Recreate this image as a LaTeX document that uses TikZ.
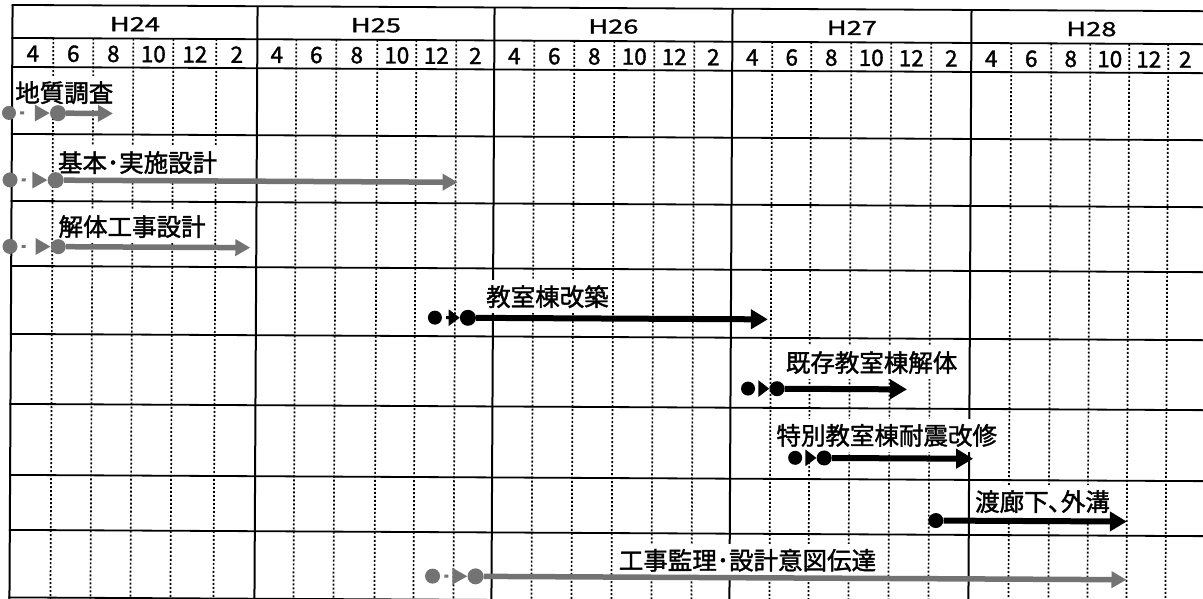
\documentclass[tikz,border=0pt]{standalone}
\usepackage{fontspec}
\setmainfont{Noto Sans CJK JP}
\newfontfamily\jpmed[FakeBold=1.6]{Noto Sans CJK JP}
\newfontfamily\jpyr[FakeBold=1.0]{Noto Sans CJK JP}
\usepackage{graphicx}
\usetikzlibrary{arrows.meta}
\begin{document}
\begin{tikzpicture}[x=1pt,y=-1pt,
  hl/.style={line width=1.8pt},
  vsolid/.style={line width=2pt},
  vdot/.style={line width=1.7pt, dash pattern=on 2pt off 2pt},
  yr/.style={font=\jpyr\fontsize{19.5pt}{22pt}\selectfont, inner sep=0pt},
  mo/.style={font=\jpmed\fontsize{22.5pt}{24pt}\selectfont, inner sep=0pt},
  lbl/.style={font=\jpmed\fontsize{24.5pt}{28pt}\selectfont, fill=white, inner xsep=1.5pt, inner ysep=5pt, anchor=west},
  gdot/.style={circle, fill=black!55, inner sep=0pt, minimum size=#1},
  bdot/.style={circle, fill=black, inner sep=0pt, minimum size=#1},
  gpre/.style={draw=black!55, line width=3pt, dash pattern=on 0pt off 4pt on 4pt off 200pt, -{Triangle[length=15pt,width=16pt]}},
  bpre/.style={draw=black, line width=3pt, dash pattern=on 0pt off 4pt on 4pt off 200pt, -{Triangle[length=11pt,width=16pt]}},
  garr/.style={draw=black!55, line width=5.5pt, -{Triangle[length=15pt,width=16pt]}},
  barr/.style={draw=black, line width=6pt, -{Triangle[length=17pt,width=19pt]}}
]
\useasboundingbox (0,0) rectangle (1203,599);
\begin{scope}[rotate around={-0.3:(600,300)}]
% grid
\foreach \x [count=\i from 0] in {11,52,92,132,172,215,256,295,335,376,415,455,493,533,573,613,653,693,731,771,810,850,890,930,970,1010,1050,1089,1128,1167}{
  \pgfmathtruncatemacro\r{mod(\i,6)}
  \ifnum\r=0 \draw[vsolid] (\x,8) -- (\x,603); \else \draw[vdot] (\x,41) -- (\x,603); \fi
}
\foreach \y in {8,41,70,137,204,269,337,407,478,533,600.5} \draw[hl] (10,\y) -- (1215,\y);
% years
\node[yr] (y24) at (133.5,26.5) {\scalebox{1.4}[1]{H24}};
\node[yr] (y25) at (374.5,26.5) {\scalebox{1.4}[1]{H25}};
\node[yr] (y26) at (612,26.5) {\scalebox{1.4}[1]{H26}};
\node[yr] (y27) at (850.5,26.5) {\scalebox{1.4}[1]{H27}};
\node[yr] (y28) at (1090,26.5) {\scalebox{1.4}[1]{H28}};
% months
\foreach \c/\m [count=\i] in {31.5/4,72/6,112/8,152/10,193.5/12,235.5/2,
  275.5/4,315/6,355.5/8,395.5/10,435/12,474/2,
  513/4,553/6,593/8,633/10,673/12,712/2,
  751/4,790.5/6,830/8,870/10,910/12,950/2,
  990/4,1030/6,1069.5/8,1108.5/10,1147.5/12,1184/2}
  \node[mo] (m\i) at (\c,56.5) {\m};
% labels
\node[lbl] (t1) at (12.5,95.8) {地質調査};
\node[lbl] (t2) at (55.5,165.4) {基本･実施設計};
\node[lbl] (t3) at (56.5,229.4) {解体工事設計};
\node[lbl] (t4) at (484.5,297.3) {教室棟改築};
\node[lbl] (t5) at (784.5,361.6) {既存教室棟解体};
\node[lbl] (t6) at (775.5,434.5) {特別教室棟耐震改修};
\node[lbl] (t7) at (974.5,499.7) {渡廊下､外溝};
\node[lbl] (t8) at (618.5,560.2) {工事監理･設計意図伝達};
% row 1
\node[gdot=14pt] (a1s) at (8,116) {};
\node[gdot=16pt] (a1m) at (57,116) {};
\coordinate (a1e) at (112,116);
\draw[gpre] (a1s) -- (a1m);
\draw[garr] (a1m) -- (a1e);
% row 2
\node[gdot=15pt] (a2s) at (9.4,183) {};
\node[gdot=16pt] (a2m) at (55,183) {};
\coordinate (a2e) at (457,183);
\draw[gpre] (a2s) -- (a2m);
\draw[garr] (a2m) -- (a2e);
% row 3
\node[gdot=15pt] (a3s) at (9.7,249.5) {};
\node[gdot=15pt] (a3m) at (58,249.5) {};
\coordinate (a3e) at (250,249.5);
\draw[gpre] (a3s) -- (a3m);
\draw[garr] (a3m) -- (a3e);
% row 4
\node[bdot=14pt] (a4s) at (435,318.5) {};
\node[bdot=16pt] (a4m) at (468,318.5) {};
\coordinate (a4e) at (768,318.5);
\draw[bpre] (a4s) -- (a4m);
\draw[barr] (a4m) -- (a4e);
% row 5
\node[bdot=14pt] (a5s) at (748.5,387.8) {};
\node[bdot=15pt] (a5m) at (777.5,387.8) {};
\coordinate (a5e) at (907.5,387.8);
\draw[bpre] (a5s) -- (a5m);
\draw[barr] (a5m) -- (a5e);
% row 6
\node[bdot=14pt] (a6s) at (796,456.8) {};
\node[bdot=15pt] (a6m) at (825,456.8) {};
\coordinate (a6e) at (974,456.8);
\draw[bpre] (a6s) -- (a6m);
\draw[barr] (a6m) -- (a6e);
% row 7
\node[bdot=15pt] (a7s) at (937,518.8) {};
\coordinate (a7e) at (1128,518.8);
\draw[barr] (a7s) -- (a7e);
% row 8
\node[gdot=15pt] (a8s) at (434,577) {};
\node[gdot=16pt] (a8m) at (477,577) {};
\coordinate (a8e) at (1128,577);
\draw[gpre] (a8s) -- (a8m);
\draw[garr] (a8m) -- (a8e);
\end{scope}
\end{tikzpicture}
\end{document}
